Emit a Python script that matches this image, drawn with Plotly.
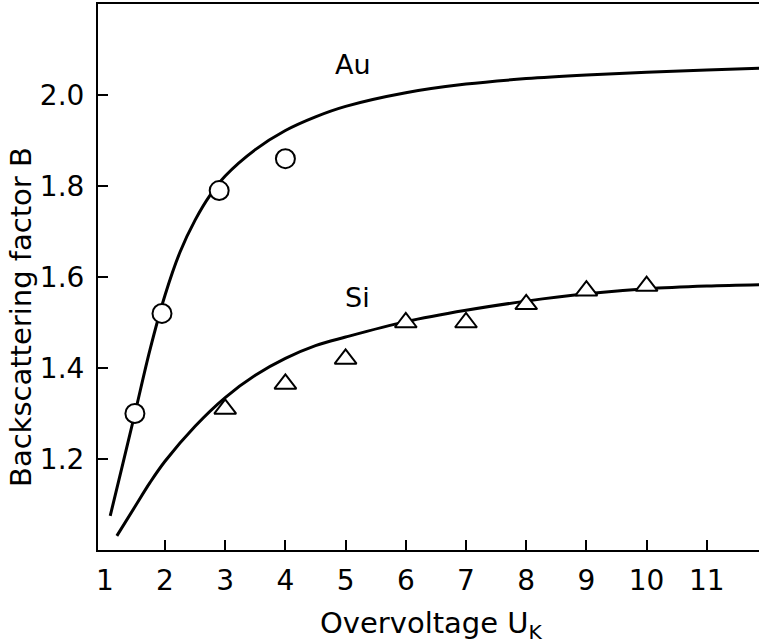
import plotly.graph_objects as go

# Measured backscattering factors
au_x = [1.5, 1.95, 2.9, 4.0]
au_y = [1.30, 1.52, 1.79, 1.86]
si_x = [3, 4, 5, 6, 7, 8, 9, 10]
si_y = [1.31, 1.365, 1.42, 1.50, 1.50, 1.54, 1.57, 1.58]

# Calculated curves
au_curve_x = [1.09, 1.3, 1.5, 1.75, 2.0, 2.25, 2.5, 2.75, 3.0, 3.5, 4.0, 4.5, 5.0, 6.0, 7.0, 8.0, 9.0, 10.0, 11.0, 11.9]
au_curve_y = [1.075, 1.19, 1.30, 1.44, 1.56, 1.655, 1.725, 1.78, 1.822, 1.88, 1.922, 1.952, 1.975, 2.005, 2.024, 2.036, 2.044, 2.050, 2.055, 2.059]
si_curve_x = [1.2, 1.5, 1.75, 2.0, 2.5, 3.0, 3.5, 4.0, 4.5, 5.0, 6.0, 7.0, 8.0, 9.0, 10.0, 11.0, 11.9]
si_curve_y = [1.031, 1.095, 1.148, 1.195, 1.272, 1.335, 1.384, 1.421, 1.449, 1.468, 1.502, 1.527, 1.547, 1.563, 1.574, 1.580, 1.583]

x_ticks = [1, 2, 3, 4, 5, 6, 7, 8, 9, 10, 11]
y_ticks = [1.2, 1.4, 1.6, 1.8, 2.0]

FONT = "DejaVu Sans"
X_RANGE = [0.887, 11.867]
Y_RANGE = [1.0, 2.2]

fig = go.Figure()

for cx, cy in ((au_curve_x, au_curve_y), (si_curve_x, si_curve_y)):
    fig.add_trace(go.Scatter(x=cx, y=cy, mode="lines",
                             line=dict(color="black", width=3, shape="spline", smoothing=1.0),
                             showlegend=False, hoverinfo="skip"))

fig.add_trace(go.Scatter(x=au_x, y=au_y, mode="markers",
                         marker=dict(symbol="circle", size=19, color="white",
                                     line=dict(color="black", width=2)),
                         showlegend=False))
fig.add_trace(go.Scatter(x=si_x, y=si_y, mode="markers",
                         marker=dict(symbol="triangle-up", size=19, color="white",
                                     line=dict(color="black", width=2)),
                         showlegend=False))

# Inside tick marks on the x axis, skipping the corner value
fig.add_trace(go.Scatter(x=[None], y=[None], xaxis="x2", showlegend=False))

fig.add_annotation(text="Au", x=5.12, y=2.066, xref="x", yref="y", showarrow=False,
                   font=dict(family=FONT, size=27, color="black"))
fig.add_annotation(text="Si", x=5.19, y=1.556, xref="x", yref="y", showarrow=False,
                   font=dict(family=FONT, size=27, color="black"))

fig.add_annotation(text="Backscattering factor B", textangle=-90,
                   x=-0.1165, y=0.4267, xref="paper", yref="paper",
                   xanchor="center", yanchor="middle", showarrow=False,
                   font=dict(family=FONT, size=29, color="black"))
fig.add_annotation(text="Overvoltage U<sub>K</sub>",
                   x=0.504, y=-0.138, xref="paper", yref="paper",
                   xanchor="center", yanchor="middle", showarrow=False,
                   font=dict(family=FONT, size=29, color="black"))

fig.update_layout(
    width=759, height=643,
    margin=dict(l=98, r=0, t=4, b=93),
    paper_bgcolor="white", plot_bgcolor="white",
    font=dict(family=FONT, size=28, color="black"),
    xaxis=dict(range=X_RANGE, tickvals=x_ticks, ticktext=[str(v) for v in x_ticks],
               ticks="", showgrid=False, zeroline=False,
               showline=True, linecolor="black", linewidth=2, mirror=True,
               ticklabelstandoff=4, tickfont=dict(family=FONT, size=28)),
    xaxis2=dict(range=X_RANGE, overlaying="x", side="bottom", anchor="y",
                tickvals=x_ticks[1:], ticks="inside", ticklen=10, tickwidth=2,
                tickcolor="black", showticklabels=False, showgrid=False,
                zeroline=False, showline=False),
    yaxis=dict(range=Y_RANGE, tickvals=y_ticks, ticktext=[f"{v:.1f}" for v in y_ticks],
               ticks="inside", ticklen=10, tickwidth=2, tickcolor="black",
               showgrid=False, zeroline=False,
               showline=True, linecolor="black", linewidth=2,
               ticklabelstandoff=6, tickfont=dict(family=FONT, size=28)),
)

fig.write_html("out.html")
